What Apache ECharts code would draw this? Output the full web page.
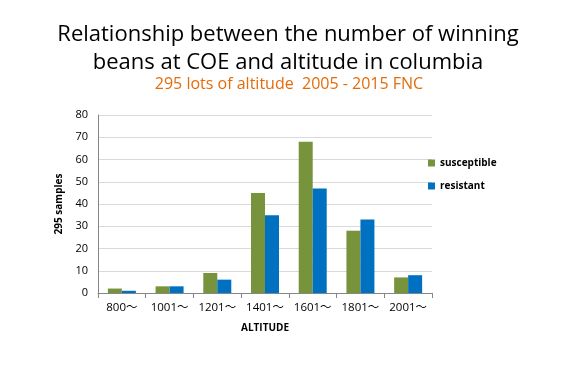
<!DOCTYPE html>
<html><head><meta charset="utf-8">
<script src="https://cdn.jsdelivr.net/npm/echarts@6/dist/echarts.min.js"></script>
<style>html,body{margin:0;padding:0;background:#fff}#c{width:565px;height:388px}</style>
</head><body><div id="c"></div>
<script>
const categories = ['800～','1001～','1201～','1401～','1601～','1801～','2001～'];
const susceptible = [2,3,9,45,68,28,7];
const resistant = [1,3,6,35,47,33,8];
const yTicks = {min:0, max:80, interval:10};
const FONT = '"Open Sans","Noto Sans CJK JP",sans-serif';
const chart = echarts.init(document.getElementById('c'));
chart.setOption({
  animation:false,
  title:[
    {text:'Relationship between the number of winning\nbeans at COE and altitude in columbia', top:16,
     textStyle:{fontFamily:FONT, fontSize:22, fontWeight:'normal', color:'#000', lineHeight:28}, textAlign:'center', left:283},
    {text:'295 lots of altitude  2005 - 2015 FNC', left:284, top:71, textAlign:'center',
     textStyle:{fontFamily:FONT, fontSize:16, fontWeight:'normal', color:'#E46C0A'}}
  ],
  legend:{orient:'vertical', left:423, top:153, itemWidth:7, itemHeight:7, itemGap:13,
    icon:'rect', textStyle:{fontFamily:FONT, fontSize:10, fontWeight:'bold', color:'#000'},
    data:['susceptible','resistant']},
  grid:{left:98, right:133, top:115, bottom:95, containLabel:false},
  xAxis:{type:'category', data:categories, name:'ALTITUDE', nameLocation:'middle', nameGap:30,
    nameTextStyle:{fontFamily:FONT, fontSize:10, fontWeight:'bold', color:'#000'},
    axisLine:{lineStyle:{color:'#868686'}}, axisTick:{show:true, length:5, lineStyle:{color:'#868686'}},
    axisLabel:{fontFamily:FONT, fontSize:11.5, color:'#000', margin:9, interval:0}},
  yAxis:{type:'value', min:yTicks.min, max:yTicks.max, interval:yTicks.interval, name:'295 samples',
    nameLocation:'middle', nameGap:24, nameRotate:90,
    nameTextStyle:{fontFamily:FONT, fontSize:10, fontWeight:'bold', color:'#000'},
    axisLine:{show:true, lineStyle:{color:'#868686'}}, axisTick:{show:false},
    axisLabel:{fontFamily:FONT, fontSize:11, color:'#000', margin:10},
    splitLine:{lineStyle:{color:'#d9d9d9'}}},
  series:[
    {name:'susceptible', type:'bar', data:susceptible, barWidth:14, barGap:'0%', itemStyle:{color:'#77933C'}},
    {name:'resistant', type:'bar', data:resistant, barWidth:14, barGap:'0%', itemStyle:{color:'#0070C0'}}
  ]
});
</script></body></html>
